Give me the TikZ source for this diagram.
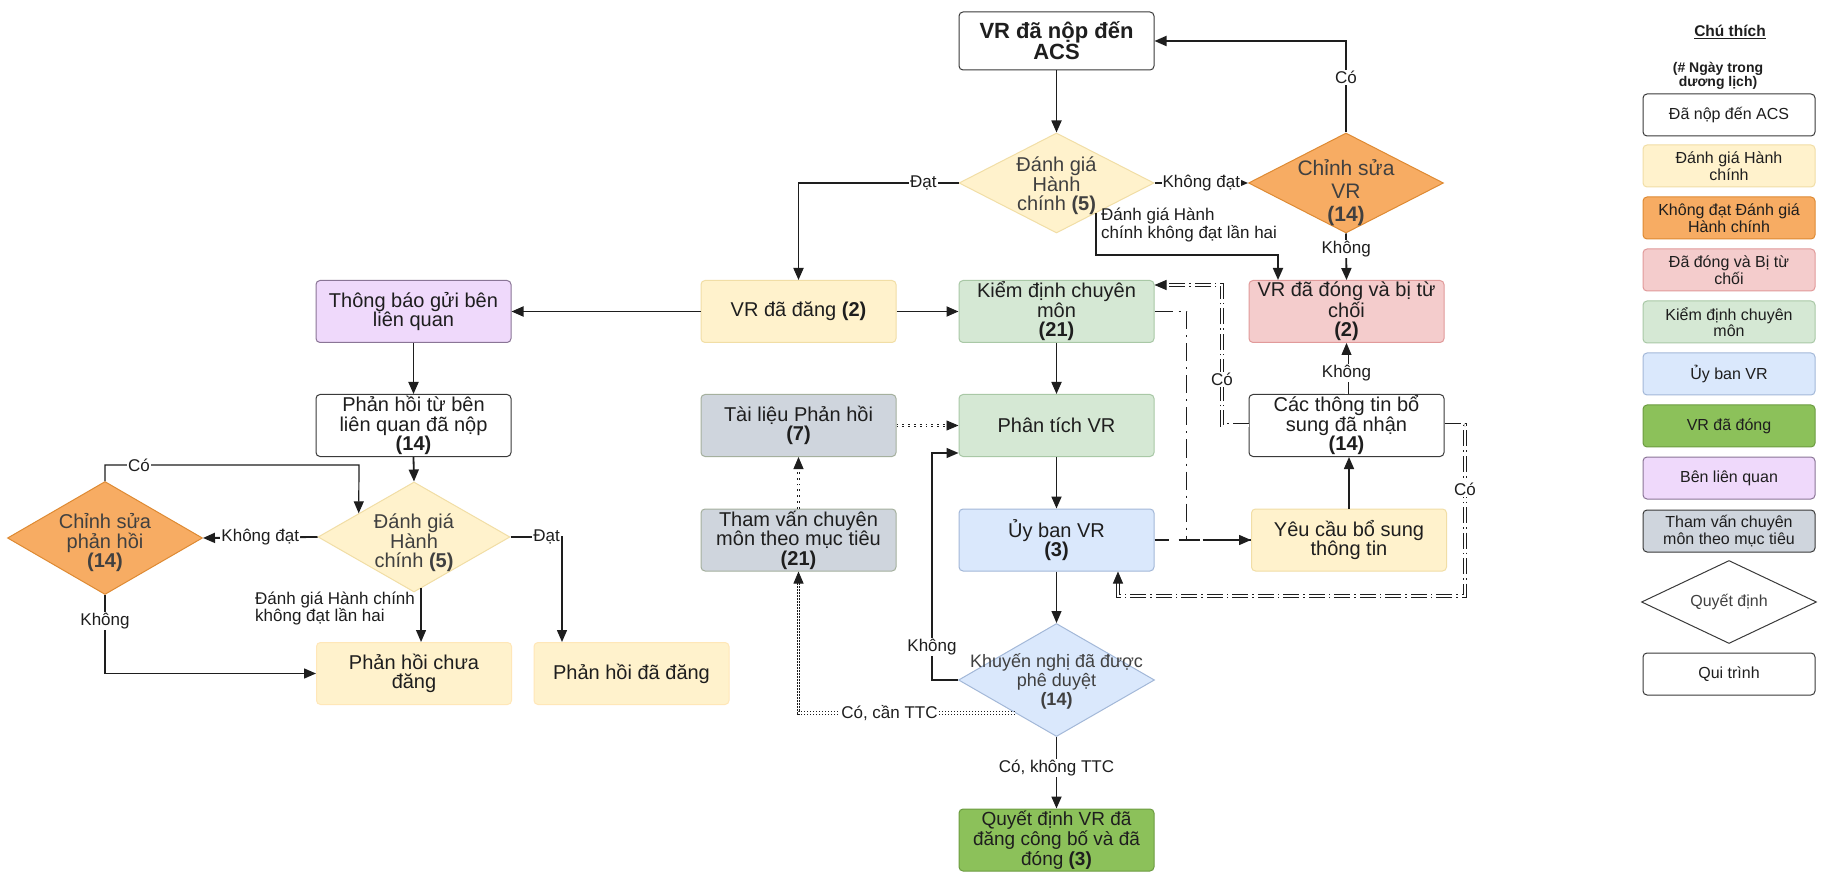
\documentclass[tikz,border=0pt]{standalone}
\usepackage{fontspec}
\setmainfont{Liberation Sans}
\usetikzlibrary{shapes.geometric,arrows.meta,calc}
\definecolor{creamF}{HTML}{FFF2CC}
\definecolor{creamD}{HTML}{F1DEA6}
\definecolor{orangeF}{HTML}{F7AC63}
\definecolor{orangeD}{HTML}{DE8A33}
\definecolor{pinkF}{HTML}{F4CCCC}
\definecolor{pinkD}{HTML}{E19A9A}
\definecolor{lgreenF}{HTML}{D5E8D4}
\definecolor{lgreenD}{HTML}{A9C8A6}
\definecolor{lblueF}{HTML}{DAE8FC}
\definecolor{lblueD}{HTML}{A3B8D8}
\definecolor{dgreenF}{HTML}{8CC15A}
\definecolor{dgreenD}{HTML}{6C9C41}
\definecolor{lavF}{HTML}{EFD9FB}
\definecolor{lavD}{HTML}{8A7596}
\definecolor{grayF}{HTML}{CFD5DD}
\definecolor{grayD}{HTML}{A5B09E}
\definecolor{ink}{HTML}{1E1E1E}
\definecolor{boxD}{HTML}{3A3A3A}
\begin{document}
\begin{tikzpicture}[x=1pt,y=-1pt,
  box/.style={draw=boxD, fill=white, rounded corners=4pt, line width=1pt, minimum width=195pt, minimum height=62pt, align=center, inner sep=1pt, text=ink, font=\fontsize{20}{19.5}\selectfont},
  dia/.style={draw=boxD, fill=white, diamond, minimum width=195pt, minimum height=100pt, inner sep=0pt, line width=1pt},
  diat/.style={text=ink!85, align=center, inner sep=0pt, font=\fontsize{20}{19.5}\selectfont},
  lbox/.style={box, minimum width=172pt, minimum height=42pt, font=\fontsize{16}{16.5}\selectfont},
  elab/.style={fill=white, inner sep=1pt, text=ink, font=\fontsize{17}{17.5}\selectfont},
  tip/.style={-{Triangle[length=12pt,width=10pt]}},
  arr/.style={draw=ink, line width=1.8pt, tip},
  arrmid/.style={draw=ink, line width=1.5pt, tip},
  arrthin/.style={draw=ink, line width=1.2pt, tip},
  dbl/.style={draw=ink, line width=0.9pt, double=white, double distance=2.2pt, dash pattern=on 16pt off 4pt on 1.5pt off 4pt, tip},
  dotd/.style={draw=ink, line width=0.8pt, double=white, double distance=1.6pt, dash pattern=on 1.5pt off 1.5pt, tip},
  dotsparse/.style={draw=ink, line width=0.9pt, double=white, double distance=1.8pt, dash pattern=on 1.8pt off 4pt, tip},
  dashdot/.style={draw=ink, line width=1.5pt, dash pattern=on 18pt off 6pt on 2pt off 6pt},
  dashline/.style={draw=ink, line width=1.5pt, dash pattern=on 14pt off 10pt, tip}
]
\useasboundingbox (0,0) rectangle (1821,874);
\fill[white] (0,0) rectangle (1821,874);

% ---------- nodes ----------
\node[box, minimum height=58pt, font=\bfseries\fontsize{22}{21}\selectfont] (acs) at (1056.5,41) {VR đã nộp đến\\ACS};
\node[dia, fill=creamF, draw=creamD, label={[diat, yshift=-3pt]center:{Đánh giá\\Hành\\chính \textbf{(5)}}}] (d1) at (1056.5,183) {};
\node[dia, fill=orangeF, draw=orangeD, label={[diat, yshift=-10pt, font=\fontsize{21}{23}\selectfont]center:{Chỉnh sửa\\VR\\\textbf{(14)}}}] (d2) at (1346,183) {};

\node[box, fill=creamF, draw=creamD] (vrdang) at (798.5,311.5) {VR đã đăng \textbf{(2)}};
\node[box, fill=lgreenF, draw=lgreenD] (kiem) at (1056.5,311.5) {Kiểm định chuyên\\môn\\\textbf{(21)}};
\node[box, fill=pinkF, draw=pinkD] (closed) at (1346.5,311.5) {VR đã đóng và bị từ\\chối\\\textbf{(2)}};
\node[box, fill=lavF, draw=lavD] (thongbao) at (413.5,311.5) {Thông báo gửi bên\\liên quan};

\node[box] (phanhoi) at (413.5,425.5) {Phản hồi từ bên\\liên quan đã nộp\\\textbf{(14)}};
\node[box, fill=grayF, draw=grayD] (tailieu) at (798.5,425.5) {Tài liệu Phản hồi\\\textbf{(7)}};
\node[box, fill=lgreenF, draw=lgreenD] (phan) at (1056.5,425.5) {Phân tích VR};
\node[box] (cacthong) at (1346.5,425.5) {Các thông tin bổ\\sung đã nhận\\\textbf{(14)}};

\node[dia, fill=orangeF, draw=orangeD, minimum height=113pt, label={[diat, yshift=-5pt]center:{Chỉnh sửa\\phản hồi\\\textbf{(14)}}}] (d4) at (105,538) {};
\node[dia, fill=creamF, draw=creamD, minimum width=192pt, minimum height=110pt, label={[diat, yshift=-6pt]center:{Đánh giá\\Hành\\chính \textbf{(5)}}}] (d3) at (414,537) {};
\node[box, fill=grayF, draw=grayD] (thamvan) at (798.5,540) {Tham vấn chuyên\\môn theo mục tiêu\\\textbf{(21)}};
\node[box, fill=lblueF, draw=lblueD] (uyban) at (1056.5,540) {Ủy ban VR\\\textbf{(3)}};
\node[box, fill=creamF, draw=creamD] (yeucau) at (1349,540) {Yêu cầu bổ sung\\thông tin};

\node[box, fill=creamF, draw=creamF!90!orange] (phchua) at (414,673.5) {Phản hồi chưa\\đăng};
\node[box, fill=creamF, draw=creamF!90!orange] (phdang) at (631.5,673.5) {Phản hồi đã đăng};
\node[dia, fill=lblueF, draw=lblueD, minimum width=196pt, minimum height=113pt, label={[diat, yshift=-1pt, font=\fontsize{18}{19}\selectfont]center:{Khuyến nghị đã được\\phê duyệt\\\textbf{(14)}}}] (d5) at (1056.5,680) {};
\node[box, fill=dgreenF, draw=dgreenD, font=\fontsize{19}{20}\selectfont] (quyet) at (1056.5,840) {Quyết định VR đã\\đăng công bố và đã\\đóng \textbf{(3)}};

% ---------- connectors ----------
\draw[arr] (acs.south) -- (d1.north);
\draw[arr] (d1.west) -| node[elab,pos=0.11]{Đạt} (vrdang.north);
\draw[arr] (d1.east) -- node[elab]{Không đạt} (d2.west);
\draw[arr] (d2.north) |- node[elab,pos=0.3]{Có} (acs.east);
\draw[arr] (d2.south) -- node[elab,pos=0.33]{Không} (closed.north);
\coordinate (s1) at ($(d1.south)!0.4!(d1.east)$);
\draw[arr] (s1) -- ++(0,42) -| ([xshift=-68.5pt]closed.north);
\node[elab, fill=none, anchor=north west, align=left, font=\fontsize{17}{18}\selectfont] (lab1) at (1100,207) {Đánh giá Hành\\chính không đạt lần hai};

\draw[arr] (vrdang.west) -- (thongbao.east);
\draw[arr] (vrdang.east) -- (kiem.west);
\draw[arr] (thongbao.south) -- (phanhoi.north);
\draw[arr] (phanhoi.south) -- (d3.north);
\draw[arr] (d3.west) -- node[elab]{Không đạt} (d4.east);
\coordinate (cL) at (359,465);
\coordinate (eL) at ($(d3.west)!0.427!(d3.north)$);
\draw[arrthin] (d4.north) |- node[elab,pos=0.567]{Có} (cL) -- (eL);
\draw[arrmid] (d4.south) |- node[elab,pos=0.166]{Không} (phchua.west);
\coordinate (eB) at ($(d3.south)!0.073!(d3.east)$);
\draw[arrthin] (eB) -- (eB |- phchua.north);
\node[elab, fill=none, anchor=north west, align=left, font=\fontsize{17}{17}\selectfont] (lab2) at (254,591) {Đánh giá Hành chính\\không đạt lần hai};
\draw[arrmid] (d3.east) -| node[elab,pos=0.35]{Đạt} ([xshift=-69.5pt]phdang.north);

\draw[arr] (kiem.south) -- (phan.north);
\draw[arr] (phan.south) -- (uyban.north);
\draw[arrthin] (uyban.south) -- (d5.north);
\draw[arr] (d5.south) -- node[elab,pos=0.43]{Có, không TTC} (quyet.north);
\coordinate (cK) at (932,453);
\draw[arrmid] (d5.west) -| node[elab,pos=0.573]{Không} (cK) -- (cK -| phan.west);
\coordinate (eT) at ($(d5.west)!0.58!(d5.south)$);
\draw[dotd] (eT) -| node[elab,pos=0.29]{Có, cần TTC} (thamvan.south);
\draw[dotsparse] (thamvan.north) -- (tailieu.south);
\draw[dotsparse] (tailieu.east) -- (phan.west);

\draw[dashdot] (kiem.east) -- ++(32,0) |- (yeucau.west);
\draw[dashline] (uyban.east) -- (yeucau.west);
\coordinate (cC1) at (1222,285);
\draw[dbl] (cacthong.west) -| node[elab,pos=0.664]{Có} (cC1) -- (cC1 -| kiem.east);
\coordinate (cC2) at (1465,596);
\draw[dbl] (cacthong.east) -| node[elab,pos=0.687]{Có} (cC2) -| ([xshift=61.5pt]uyban.south);
\draw[dbl] (cacthong.north) -- node[elab,pos=0.42]{Không} (closed.south);
\draw[arrmid] (yeucau.north) -- (yeucau.north |- cacthong.south);

% ---------- legend ----------
\node[text=ink, font=\bfseries\fontsize{15.5}{16}\selectfont] (lgT) at (1730,32) {\underline{Chú thích}};
\node[text=ink, align=center, font=\bfseries\fontsize{14}{10}\selectfont] (lgS) at (1718,76) {(\# Ngày trong\\dương lịch)};
\node[lbox] (lg1) at (1729,115) {Đã nộp đến ACS};
\node[lbox, fill=creamF, draw=creamD] (lg2) at (1729,166) {Đánh giá Hành\\chính};
\node[lbox, fill=orangeF, draw=orangeD] (lg3) at (1729,218) {Không đạt Đánh giá\\Hành chính};
\node[lbox, fill=pinkF, draw=pinkD] (lg4) at (1729,270) {Đã đóng và Bị từ\\chối};
\node[lbox, fill=lgreenF, draw=lgreenD] (lg5) at (1729,322) {Kiểm định chuyên\\môn};
\node[lbox, fill=lblueF, draw=lblueD] (lg6) at (1729,374) {Ủy ban VR};
\node[lbox, fill=dgreenF, draw=dgreenD] (lg7) at (1729,426) {VR đã đóng};
\node[lbox, fill=lavF, draw=lavD] (lg8) at (1729,478) {Bên liên quan};
\node[lbox, fill=grayF, draw=boxD] (lg9) at (1729,531) {Tham vấn chuyên\\môn theo mục tiêu};
\node[dia, minimum width=175pt, minimum height=83pt, label={[diat, font=\fontsize{16}{16.5}\selectfont]center:{Quyết định}}] (lg10) at (1729,602) {};
\node[lbox] (lg11) at (1729,674) {Qui trình};
\end{tikzpicture}
\end{document}
